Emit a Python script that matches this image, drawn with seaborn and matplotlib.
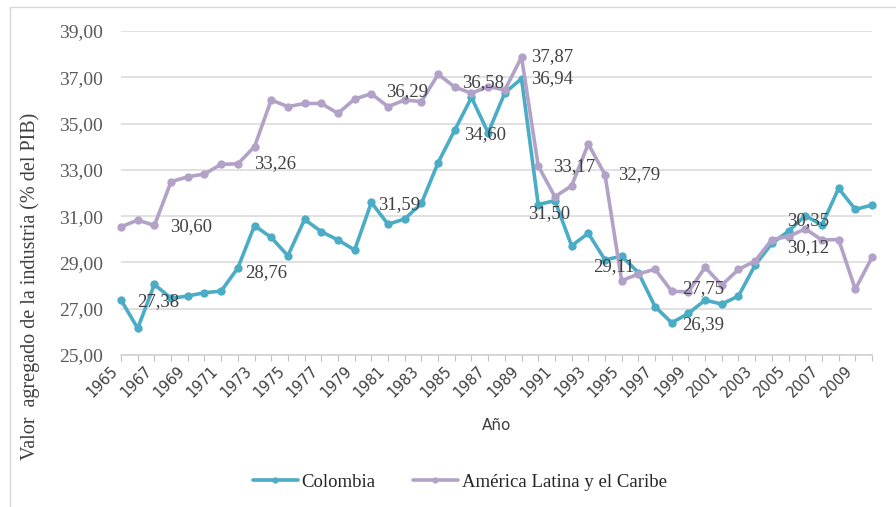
import matplotlib
matplotlib.use("Agg")
import matplotlib.pyplot as plt
from matplotlib.lines import Line2D
import seaborn as sns
import pandas as pd
import numpy as np

years = list(range(1965, 2011))
colombia = [27.38, 26.15, 28.05, 27.45, 27.55, 27.69, 27.76, 28.76, 30.59, 30.08,
            29.29, 30.86, 30.33, 29.97, 29.54, 31.59, 30.65, 30.88, 31.55, 33.31,
            34.72, 36.13, 34.60, 36.33, 36.94, 31.50, 31.67, 29.72, 30.26, 29.11,
            29.27, 28.56, 27.09, 26.39, 26.80, 27.37, 27.20, 27.55, 28.89, 29.82,
            30.35, 31.02, 30.62, 32.20, 31.29, 31.48]
latam = [30.54, 30.83, 30.60, 32.49, 32.70, 32.82, 33.24, 33.26, 34.00, 36.02,
         35.73, 35.87, 35.87, 35.44, 36.06, 36.29, 35.73, 36.02, 35.95, 37.13,
         36.58, 36.31, 36.60, 36.45, 37.87, 33.17, 31.84, 32.31, 34.12, 32.79,
         28.21, 28.50, 28.71, 27.75, 27.73, 28.79, 28.02, 28.70, 29.06, 29.99,
         30.12, 30.45, 29.97, 29.99, 27.84, 29.22]
series_names = ["Colombia", "América Latina y el Caribe"]
series_colors = ["#4BACC6", "#B3A2C7"]
y_ticks = [25, 27, 29, 31, 33, 35, 37, 39]
x_tick_labels = [str(y) for y in range(1965, 2011, 2)]

# data labels: (series index, year, text, offset px)
labels = [
    (0, 1965, "27,38", (16, -2)),
    (1, 1967, "30,60", (16, -1)),
    (0, 1972, "28,76", (7, -5)),
    (1, 1972, "33,26", (16, 0)),
    (0, 1980, "31,59", (7, -2)),
    (1, 1980, "36,29", (15, 2)),
    (1, 1985, "36,58", (7, 4)),
    (0, 1987, "34,60", (-24, -2)),
    (1, 1989, "37,87", (10, 1)),
    (0, 1989, "36,94", (10, 0)),
    (0, 1990, "31,50", (-10, -9)),
    (1, 1990, "33,17", (15, -1)),
    (1, 1994, "32,79", (13, 0)),
    (0, 1994, "29,11", (-12, -7)),
    (1, 1998, "27,75", (10, 3)),
    (0, 1998, "26,39", (10, -2)),
    (0, 2005, "30,35", (-1, 11)),
    (1, 2005, "30,12", (-1, -11)),
]

df = pd.DataFrame({
    "Año": years * 2,
    "valor": colombia + latam,
    "serie": [series_names[0]] * len(years) + [series_names[1]] * len(years),
})

sns.set_theme(style="white")
plt.rcParams["font.family"] = ["Liberation Serif", "DejaVu Serif"]

fig = plt.figure(figsize=(8.96, 5.07), dpi=100)
ax = fig.add_axes([121 / 896, 1 - 355 / 507, (872 - 121) / 896, (355 - 31) / 507])

sns.lineplot(data=df, x="Año", y="valor", hue="serie", palette=series_colors,
             marker="o", markersize=6, markeredgewidth=0, linewidth=2.6,
             legend=False, ax=ax, clip_on=False, zorder=3)

ax.set_xlim(1965, 2010)
ax.set_ylim(25, 39)
ax.set_yticks(y_ticks)
ax.set_yticklabels([f"{v:.2f}".replace(".", ",") for v in y_ticks],
                   fontsize=14, color="#595959", family=["Liberation Serif"])
ax.tick_params(axis="y", length=0, pad=13)
ax.grid(axis="y", color="#D9D9D9", linewidth=1.1)
ax.set_axisbelow(True)

ax.set_xticks(list(range(1965, 2011, 2)))
ax.set_xticklabels(x_tick_labels, rotation=45, ha="right", va="top",
                   fontsize=10.5, color="#404040", family=["DejaVu Sans"])
ax.set_xticks(years, minor=True)
ax.tick_params(axis="x", which="both", direction="out", length=4, width=0.8,
               color="#BFBFBF", pad=2, bottom=True)
for s in ["left", "right", "top"]:
    ax.spines[s].set_visible(False)
ax.spines["bottom"].set_color("#D0D0D0")
ax.spines["bottom"].set_linewidth(1.1)
ax.set_xlabel("")
ax.set_ylabel("")

series_vals = [colombia, latam]
for si, yr, txt, off in labels:
    val = series_vals[si][years.index(yr)]
    ax.annotate(txt, xy=(yr, val), xytext=off, textcoords="offset pixels",
                ha="left", va="center", fontsize=13.5, color="#404040",
                family=["Liberation Serif"], zorder=5, annotation_clip=False)

fig.text(30 / 896, 1 - 460 / 507, "Valor  agregado de la industria (% del PIB)",
         rotation=90, ha="center", va="bottom", fontsize=14.5, color="#404040",
         family=["Liberation Serif"])
fig.text(497 / 896, 1 - 425 / 507, "Año", ha="center", va="center",
         fontsize=11, color="#404040", family=["DejaVu Sans"])

handles = [Line2D([0], [0], color=c, lw=2.6, marker="o", markersize=4.5,
                  markeredgewidth=0) for c in series_colors]
fig.legend(handles, series_names, loc="center", bbox_to_anchor=(0.513, 1 - 482 / 507),
           ncol=2, frameon=False, handlelength=2.4, handletextpad=0.2,
           columnspacing=2.0, prop={"family": "Liberation Serif", "size": 13.5})

# figure border (left and top)
fig.add_artist(Line2D([10 / 896, 10 / 896], [0, 1 - 7 / 507], transform=fig.transFigure,
                      color="#D9D9D9", lw=1))
fig.add_artist(Line2D([10 / 896, 1], [1 - 7 / 507, 1 - 7 / 507], transform=fig.transFigure,
                      color="#D9D9D9", lw=1))

fig.savefig("out.png", dpi=100)
